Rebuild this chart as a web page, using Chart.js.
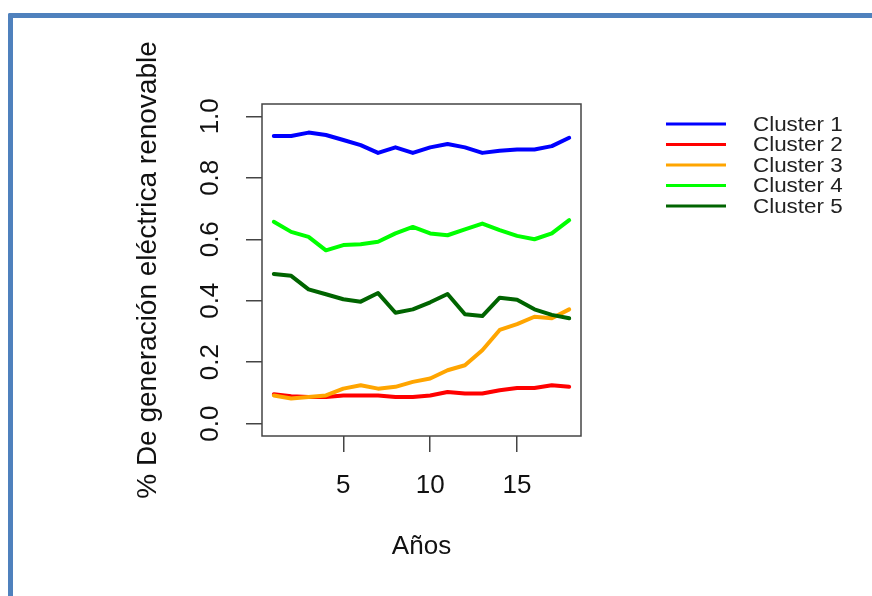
<!DOCTYPE html>
<html>
<head>
<meta charset="utf-8">
<script src="https://cdn.jsdelivr.net/npm/chart.js@4"></script>
<style>
  body { margin: 0; background: #fff; }
  #wrap { position: relative; width: 872px; height: 596px; overflow: hidden; }
  #frame {
    position: absolute; left: 8px; top: 13px; width: 900px; height: 620px;
    border-left: 5px solid #4f81bd; border-top: 5px solid #4f81bd;
    border-top-left-radius: 2px;
  }
  #chart { position: absolute; left: 0; top: 0; }
</style>
</head>
<body>
<div id="wrap">
  <div id="frame"></div>
  <canvas id="chart" width="872" height="596"></canvas>
</div>
<script>
// values
const years = [1, 2, 3, 4, 5, 6, 7, 8, 9, 10, 11, 12, 13, 14, 15, 16, 17, 18];
const cluster1 = [0.936, 0.936, 0.947, 0.939, 0.923, 0.906, 0.881, 0.899, 0.881, 0.899, 0.910, 0.899, 0.881, 0.888, 0.892, 0.892, 0.903, 0.930];
const cluster2 = [0.096, 0.089, 0.087, 0.087, 0.092, 0.092, 0.092, 0.087, 0.087, 0.092, 0.103, 0.098, 0.098, 0.109, 0.116, 0.116, 0.125, 0.120];
const cluster3 = [0.092, 0.082, 0.087, 0.092, 0.114, 0.125, 0.114, 0.120, 0.136, 0.147, 0.174, 0.190, 0.239, 0.305, 0.324, 0.348, 0.343, 0.372];
const cluster4 = [0.657, 0.624, 0.608, 0.564, 0.581, 0.584, 0.592, 0.619, 0.640, 0.619, 0.613, 0.632, 0.651, 0.630, 0.611, 0.600, 0.619, 0.662];
const cluster5 = [0.487, 0.481, 0.437, 0.421, 0.405, 0.397, 0.425, 0.361, 0.372, 0.395, 0.422, 0.356, 0.350, 0.410, 0.403, 0.372, 0.354, 0.343];

const seriesNames = ['Cluster 1', 'Cluster 2', 'Cluster 3', 'Cluster 4', 'Cluster 5'];
const seriesColors = ['#0000ff', '#ff0000', '#ffa500', '#00ff00', '#006400'];
const xTicks = [5, 10, 15];
const yTicks = [0, 0.2, 0.4, 0.6, 0.8, 1.0];

const FONT = "'Liberation Sans', Arial, sans-serif";

function toPoints(vals) {
  return vals.map((v, i) => ({ x: years[i], y: v }));
}

const allSeries = [cluster1, cluster2, cluster3, cluster4, cluster5];
const datasets = allSeries.map((vals, i) => ({
  label: seriesNames[i],
  data: toPoints(vals),
  borderColor: seriesColors[i],
  backgroundColor: seriesColors[i],
  borderWidth: 4,
  pointRadius: 0,
  tension: 0,
  borderJoinStyle: 'round',
  borderCapStyle: 'round',
  order: allSeries.length - i   // later clusters painted on top, like R
}));

// box around the plot region (R's box())
const boxPlugin = {
  id: 'plotBox',
  afterDraw(chart) {
    const a = chart.chartArea;
    const ctx = chart.ctx;
    ctx.save();
    ctx.strokeStyle = '#444';
    ctx.lineWidth = 1.5;
    ctx.strokeRect(a.left, a.top, a.right - a.left, a.bottom - a.top);
    ctx.restore();
  }
};

// legend drawn the R way: long line sample, text to the right
const legendPlugin = {
  id: 'rLegend',
  afterDraw(chart) {
    const ctx = chart.ctx;
    ctx.save();
    ctx.textBaseline = 'middle';
    ctx.textAlign = 'left';
    chart.data.datasets.forEach((ds, i) => {
      const y = 124 + i * 20.5;
      ctx.strokeStyle = ds.borderColor;
      ctx.lineWidth = 3;
      ctx.beginPath();
      ctx.moveTo(666, y);
      ctx.lineTo(726, y);
      ctx.stroke();
      // the reference text is a little wider than plain Arial
      ctx.save();
      ctx.translate(753, y + 1);
      ctx.scale(1.12, 1);
      ctx.font = '20px ' + FONT;
      ctx.fillStyle = '#222';
      ctx.fillText(ds.label, 0, 0);
      ctx.restore();
    });
    ctx.restore();
  }
};

new Chart(document.getElementById('chart'), {
  type: 'line',
  data: { datasets: datasets },
  plugins: [boxPlugin, legendPlugin],
  options: {
    responsive: false,
    animation: false,
    layout: { padding: { left: 120, top: 104, right: 291, bottom: 34 } },
    plugins: { legend: { display: false }, tooltip: { enabled: false } },
    scales: {
      x: {
        type: 'linear',
        min: 0.32,
        max: 18.68,
        afterBuildTicks: s => { s.ticks = xTicks.map(v => ({ value: v })); },
        afterFit: s => { s.height = 126; },
        border: { display: false },
        grid: { drawOnChartArea: false, drawTicks: true, tickLength: 16, color: '#444', lineWidth: 1.5 },
        ticks: { font: { family: FONT, size: 26 }, color: '#111', padding: 18, maxRotation: 0 },
        title: { display: true, text: 'Años', font: { family: FONT, size: 26 }, color: '#111', padding: { top: 0, bottom: 0 } }
      },
      y: {
        min: -0.04,
        max: 1.04,
        afterBuildTicks: s => { s.ticks = yTicks.map(v => ({ value: v })); },
        afterFit: s => { s.width = 142; },
        border: { display: false },
        grid: { drawOnChartArea: false, drawTicks: true, tickLength: 16, color: '#444', lineWidth: 1.5 },
        ticks: {
          font: { family: FONT, size: 26 }, color: '#111',
          minRotation: 90, maxRotation: 90, crossAlign: 'center', padding: 17,
          callback: v => v.toFixed(1)
        },
        title: { display: true, text: '% De generación eléctrica renovable', font: { family: FONT, size: 28 }, color: '#111', padding: { top: 11, bottom: 0 } }
      }
    }
  }
});
</script>
</body>
</html>
